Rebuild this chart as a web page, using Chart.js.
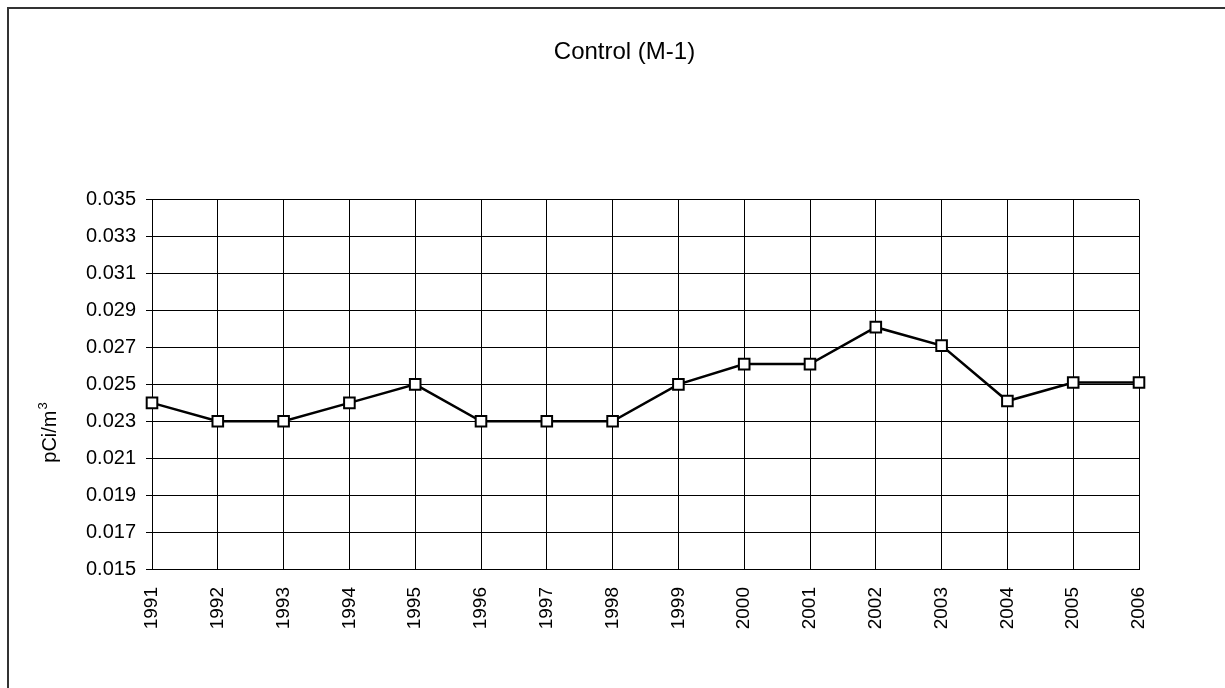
<!DOCTYPE html>
<html>
<head>
<meta charset="utf-8">
<script src="https://cdn.jsdelivr.net/npm/chart.js@4.4.0/dist/chart.umd.min.js"></script>
<style>
  html, body { margin: 0; padding: 0; background: #fff; }
  #wrap { width: 1225px; height: 688px; }
</style>
</head>
<body>
<div id="wrap"><canvas id="controlChart"></canvas></div>
<script>
const years = ['1991', '1992', '1993', '1994', '1995', '1996', '1997', '1998',
               '1999', '2000', '2001', '2002', '2003', '2004', '2005', '2006'];
const concentrations = [0.024, 0.023, 0.023, 0.024, 0.025, 0.023, 0.023, 0.023,
                        0.025, 0.0261, 0.0261, 0.0281, 0.0271, 0.0241, 0.0251, 0.0251];
const yTicks = [0.015, 0.017, 0.019, 0.021, 0.023, 0.025, 0.027, 0.029, 0.031, 0.033, 0.035];
const yUnit = 'pCi/m';
const yUnitPower = '3';

// outer frame like the scanned page border
const framePlugin = {
    id: 'frame',
    beforeDraw(chart) {
        const ctx = chart.ctx;
        ctx.save();
        ctx.fillStyle = '#fff';
        ctx.fillRect(0, 0, chart.width, chart.height);
        ctx.strokeStyle = '#333';
        ctx.lineWidth = 2;
        ctx.beginPath();
        ctx.moveTo(8, chart.height + 2);
        ctx.lineTo(8, 8);
        ctx.lineTo(chart.width + 2, 8);
        ctx.stroke();
        ctx.restore();
    }
};

// y axis title with a raised exponent (pCi/m^3)
const unitLabelPlugin = {
    id: 'unitLabel',
    afterDraw(chart) {
        const ctx = chart.ctx;
        ctx.save();
        ctx.translate(56, 433);
        ctx.rotate(-Math.PI / 2);
        ctx.fillStyle = '#000';
        ctx.textBaseline = 'alphabetic';
        ctx.font = '20px "Liberation Sans"';
        const w1 = ctx.measureText(yUnit).width;
        ctx.font = '13px "Liberation Sans"';
        const w2 = ctx.measureText(yUnitPower).width;
        const start = -(w1 + w2) / 2;
        ctx.font = '20px "Liberation Sans"';
        ctx.fillText(yUnit, start, 0);
        ctx.font = '13px "Liberation Sans"';
        ctx.fillText(yUnitPower, start + w1 + 1, -9);
        ctx.restore();
    }
};

const ctx = document.getElementById('controlChart').getContext('2d');
new Chart(ctx, {
    type: 'line',
    data: {
        labels: years,
        datasets: [{
            label: 'Control (M-1)',
            data: concentrations,
            borderColor: '#000',
            borderWidth: 2.5,
            tension: 0,
            pointStyle: 'rect',
            pointRadius: 7.5,
            pointHoverRadius: 7.5,
            pointBackgroundColor: '#fff',
            pointBorderColor: '#000',
            pointBorderWidth: 2
        }]
    },
    options: {
        responsive: true,
        maintainAspectRatio: false,
        animation: false,
        layout: { padding: { top: 0, right: 0, bottom: 0, left: 24 } },
        plugins: {
            legend: { display: false },
            tooltip: { enabled: false },
            title: {
                display: true,
                text: 'Control (M-1)',
                color: '#000',
                font: { family: 'Liberation Sans', size: 24, weight: 'normal' },
                padding: { top: 38, bottom: 133 }
            }
        },
        scales: {
            x: {
                offset: false,
                grid: { color: '#000', lineWidth: 1, drawTicks: false },
                border: { color: '#000', width: 1 },
                ticks: {
                    color: '#000',
                    font: { family: 'Liberation Sans', size: 19 },
                    maxRotation: 90,
                    minRotation: 90,
                    padding: 18,
                    autoSkip: false
                },
                afterFit: function(scale) { scale.height = 119; }
            },
            y: {
                min: 0.015,
                max: 0.035,
                grid: { color: '#000', lineWidth: 1, tickLength: 6 },
                border: { color: '#000', width: 1 },
                afterBuildTicks: function(scale) {
                    scale.ticks = yTicks.map(v => ({ value: v }));
                },
                ticks: {
                    color: '#000',
                    font: { family: 'Liberation Sans', size: 20 },
                    padding: 10,
                    callback: function(value) { return value.toFixed(3); }
                },
                afterFit: function(scale) { scale.width = 128; }
            },
            // empty right axis that only reserves the right margin
            yRight: {
                position: 'right',
                min: 0.015,
                max: 0.035,
                grid: { display: false },
                border: { display: false },
                ticks: { display: false },
                afterFit: function(scale) { scale.width = 86; }
            }
        }
    },
    plugins: [framePlugin, unitLabelPlugin]
});
</script>
</body>
</html>
